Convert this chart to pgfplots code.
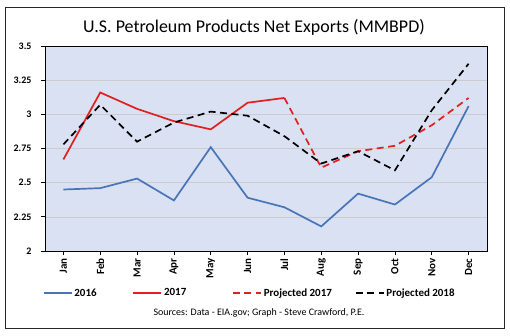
\documentclass[border=0pt]{standalone}
\usepackage{pgfplots}
\pgfplotsset{compat=1.18}
\usepackage{fontspec}
\setmainfont{Carlito}
\definecolor{bgblue}{HTML}{D9E1F2}
\definecolor{s16}{HTML}{4A74B8}
\definecolor{s17}{HTML}{E0201F}
\begin{document}
\begin{tikzpicture}[x=1bp,y=1bp]
\useasboundingbox (0,0) rectangle (510,335);
\draw[black!85, line width=0.8bp] (5,7) rectangle (504,328);
\node at (254,308) {\fontsize{18}{21}\selectfont U.S. Petroleum Products Net Exports (MMBPD)};
\node at (259,22) {\fontsize{10}{12}\selectfont Sources: Data - EIA.gov; Graph - Steve Crawford, P.E.};
\begin{axis}[at={(45bp,84bp)}, anchor=south west, scale only axis,
  width=442bp, height=205bp,
  xmin=-0.5, xmax=11.5, ymin=2, ymax=3.5,
  ytick={2,2.25,2.5,2.75,3,3.25,3.5},
  yticklabels={2,2.25,2.5,2.75,3,3.25,3.5},
  xtick={0,1,2,3,4,5,6,7,8,9,10,11},
  xticklabels={Jan,Feb,Mar,Apr,May,Jun,Jul,Aug,Sep,Oct,Nov,Dec},
  x tick label style={rotate=90, anchor=east, font=\bfseries\fontsize{11}{13}\selectfont},
  y tick label style={font=\bfseries\fontsize{10}{12}\selectfont, xshift=-6bp},
  axis background/.style={fill=bgblue},
  ymajorgrids, grid style={color=black!20, line width=0.6bp},
  tick align=outside, tick pos=left, major tick length=4bp,
  tick style={black, line width=0.8bp},
  axis line style={black, line width=0.8bp},
  legend columns=4,
  legend style={at={(0.463,-0.205)}, anchor=center, draw=none, fill=none,
    font=\bfseries\fontsize{11}{13}\selectfont, column sep=0bp,
    /tikz/every even column/.append style={column sep=2bp}},
  legend image code/.code={\draw[#1] (0bp,0bp) -- (28bp,0bp);},
]
\addplot[s16, line width=1.7bp] coordinates {
(0,2.45) (1,2.46) (2,2.53) (3,2.37) (4,2.76) (5,2.39) (6,2.32) (7,2.18) (8,2.42) (9,2.34) (10,2.54) (11,3.06)};
\addlegendentry{\makebox[54bp][l]{2016}}
\addplot[s17, line width=1.7bp] coordinates {
(0,2.67) (1,3.16) (2,3.04) (3,2.95) (4,2.89) (5,3.085) (6,3.12)};
\addlegendentry{\makebox[64bp][l]{2017}}
\addplot[s17, line width=1.7bp, dash pattern=on 7bp off 4.5bp] coordinates {
(6,3.12) (7,2.61) (8,2.73) (9,2.77) (10,2.92) (11,3.12)};
\addlegendentry{\makebox[87bp][l]{Projected 2017}}
\addplot[black, line width=1.7bp, dash pattern=on 7bp off 4.5bp] coordinates {
(0,2.78) (1,3.07) (2,2.80) (3,2.94) (4,3.02) (5,2.99) (6,2.84) (7,2.64) (8,2.73) (9,2.59) (10,3.03) (11,3.37)};
\addlegendentry{Projected 2018}
\end{axis}
\end{tikzpicture}
\end{document}
